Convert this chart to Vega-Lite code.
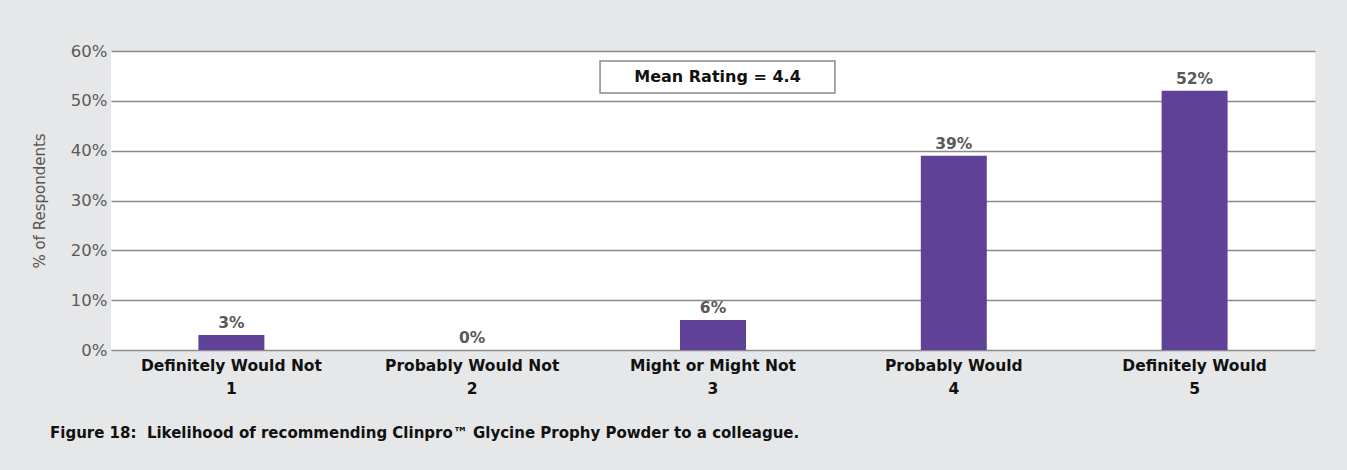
{
  "$schema": "https://vega.github.io/schema/vega-lite/v6.json",
  "width": 1204,
  "height": 299,
  "autosize": {"type": "none"},
  "padding": {"left": 111, "top": 51, "right": 32, "bottom": 120},
  "background": "#e6e7e8",
  "config": {
    "font": "DejaVu Sans",
    "view": {"fill": "white", "stroke": null}
  },
  "title": {
    "text": "Figure 18:\u00a0 Likelihood of recommending Clinpro™ Glycine Prophy Powder to a colleague.",
    "orient": "bottom",
    "anchor": "start",
    "frame": "group",
    "dx": -61,
    "offset": 29,
    "fontSize": 15,
    "fontWeight": "bold",
    "color": "#111111",
    "font": "DejaVu Sans"
  },
  "data": {
    "values": [
      {"category": "Definitely Would Not\n1", "pct": 0.03},
      {"category": "Probably Would Not\n2", "pct": 0.0},
      {"category": "Might or Might Not\n3", "pct": 0.06},
      {"category": "Probably Would\n4", "pct": 0.39},
      {"category": "Definitely Would\n5", "pct": 0.52}
    ]
  },
  "encoding": {
    "x": {
      "field": "category",
      "type": "nominal",
      "sort": null,
      "scale": {"paddingInner": 0.726, "paddingOuter": 0.363},
      "axis": {
        "title": null,
        "labelAngle": 0,
        "labelExpr": "split(datum.value, '\\n')",
        "labelFont": "DejaVu Sans",
        "labelFontSize": 15.5,
        "labelFontWeight": "bold",
        "labelColor": "#111111",
        "labelPadding": 8,
        "labelLineHeight": 23,
        "labelLimit": 400,
        "labelOverlap": false,
        "ticks": false,
        "domain": false,
        "grid": false
      }
    }
  },
  "layer": [
    {
      "mark": {"type": "bar", "color": "#604198"},
      "encoding": {
        "y": {
          "field": "pct",
          "type": "quantitative",
          "scale": {"domain": [0, 0.6]},
          "axis": {
            "title": "% of Respondents",
            "titleFont": "DejaVu Sans",
            "titleFontSize": 15,
            "titleFontWeight": "normal",
            "titleColor": "#555555",
            "titlePadding": 23,
            "format": ".0%",
            "values": [0, 0.1, 0.2, 0.3, 0.4, 0.5, 0.6],
            "labelFont": "DejaVu Sans",
            "labelFontSize": 16.5,
            "labelColor": "#5a5a5a",
            "labelPadding": 4,
            "ticks": false,
            "domain": false,
            "gridColor": "#8a8a8a",
            "gridWidth": 1.5,
            "gridOpacity": 1
          }
        }
      }
    },
    {
      "mark": {"type": "text", "baseline": "bottom", "dy": -4, "fontSize": 15.5, "fontWeight": "bold", "color": "#595959", "font": "DejaVu Sans"},
      "encoding": {
        "y": {"field": "pct", "type": "quantitative"},
        "text": {"field": "pct", "type": "quantitative", "format": ".0%"}
      }
    },
    {
      "transform": [{"filter": "datum.category == 'Might or Might Not\\n3'"}],
      "mark": {"type": "bar", "fill": "white", "stroke": "#8a8a8a", "strokeWidth": 1.5, "width": {"band": 3.56}, "xOffset": 4.5},
      "encoding": {
        "y": {"datum": 0.58},
        "y2": {"datum": 0.5157}
      }
    },
    {
      "transform": [{"filter": "datum.category == 'Might or Might Not\\n3'"}],
      "mark": {"type": "text", "text": "Mean Rating = 4.4", "fontSize": 16, "fontWeight": "bold", "color": "#111111", "font": "DejaVu Sans", "xOffset": 4.5, "baseline": "middle"},
      "encoding": {
        "y": {"datum": 0.548}
      }
    }
  ]
}
